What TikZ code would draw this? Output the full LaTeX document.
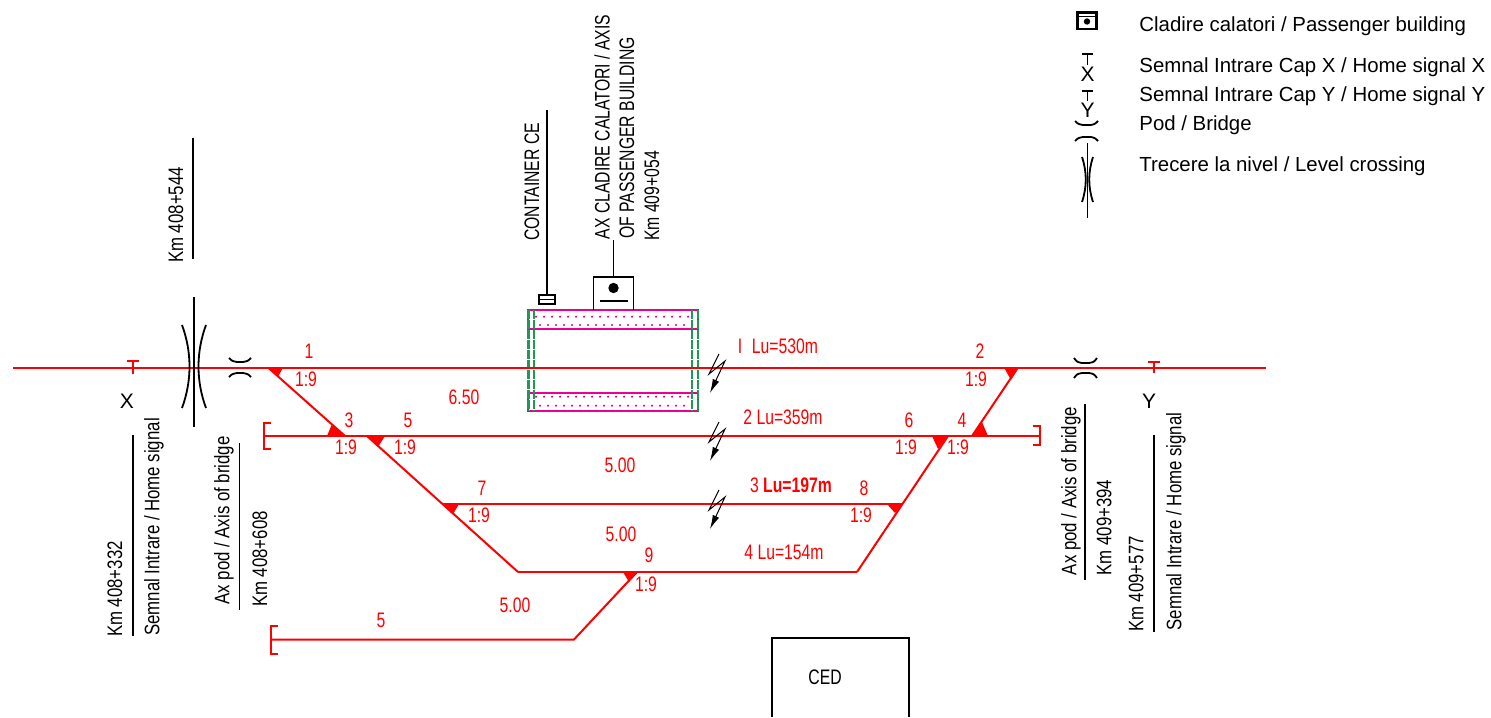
\documentclass[tikz,border=0pt]{standalone}
\usepackage{fontspec}
\setmainfont{Liberation Sans}
\newfontfamily\narrowfont[FakeStretch=0.75]{Liberation Sans}
\newfontfamily\sidefont[FakeStretch=0.8]{Liberation Sans}
\usetikzlibrary{arrows.meta}
\definecolor{trackred}{rgb}{1,0,0}
\definecolor{platgreen}{rgb}{0.13,0.6,0.33}
\tikzset{
  track/.style={draw=trackred, line width=1pt},
  turnout/.style={fill=trackred},
  blackline/.style={draw=black, line width=0.9pt},
  redlabel/.style={text=trackred, inner sep=0pt, font=\narrowfont\fontsize{10.5}{12}\selectfont},
  toplabel/.style={text=black, inner sep=0pt, rotate=90, font=\narrowfont\fontsize{10.5}{12}\selectfont},
  sidelabel/.style={text=black, inner sep=0pt, rotate=90, font=\sidefont\fontsize{10.5}{12}\selectfont},
  legendlabel/.style={text=black, inner sep=0pt, anchor=west, font=\fontsize{10.2}{12}\selectfont},
  signlabel/.style={text=black, inner sep=0pt, font=\fontsize{10.5}{12}\selectfont},
  platform/.style={draw=magenta, line width=1pt},
  platdots/.style={draw=magenta, line width=1.2pt, line cap=round, dash pattern=on 0pt off 4pt},
  platside/.style={draw=platgreen, line width=1.1pt, dash pattern=on 4.6pt off 0.4pt},
  bolt/.style={draw=black, line width=0.5pt, -{Latex[length=7pt,width=3.5pt]}}
}
\begin{document}
\begin{tikzpicture}[x=0.5pt,y=-0.5pt]
    \useasboundingbox (0,0) rectangle (1491,717);

    % Platforms
    \draw[platdots] (536,316.7) -- (692,316.7);
    \draw[platdots, dash phase=2pt] (536,325) -- (692,325);
    \draw[platdots] (536,396.7) -- (692,396.7);
    \draw[platdots, dash phase=2pt] (536,405.7) -- (692,405.7);
    \draw[platform] (528,310) rectangle (698,328.5);
    \draw[platform] (528,392.5) rectangle (698,411);
    \draw[platside] (528.5,310) -- (528.5,411);
    \draw[platside] (534.3,310) -- (534.3,411);
    \draw[platside] (692.3,310) -- (692.3,411);
    \draw[platside] (698,310) -- (698,411);

    % Track points
    \coordinate (mainL) at (13,367.5);
    \coordinate (mainR) at (1266,367.5);
    \coordinate (sw1) at (268,367.5);
    \coordinate (sw2) at (1018,367.5);
    \coordinate (sw3) at (345,436);
    \coordinate (sw5) at (367,436);
    \coordinate (sw6) at (948,436);
    \coordinate (sw4) at (972,436);
    \coordinate (sw7) at (442,504);
    \coordinate (sw8) at (903,504);
    \coordinate (bendL) at (518,572);
    \coordinate (bendR) at (857,572);
    \coordinate (sw9) at (637,572);
    \coordinate (bend5) at (574,639.5);
    \coordinate (end2L) at (264,436);
    \coordinate (end2R) at (1040,436);
    \coordinate (end5) at (271,639.5);

    % Tracks
    \draw[track] (mainL) -- (mainR);
    \draw[track] (end2L) -- (end2R);
    \draw[track] (sw7) -- (sw8);
    \draw[track] (bendL) -- (bendR);
    \draw[track] (end5) -- (bend5) -- (sw9);
    \draw[track] (sw1) -- (sw3);
    \draw[track] (sw5) -- (bendL);
    \draw[track] (bendR) -- (sw6);
    \draw[track] (sw4) -- (sw2);

    % Track ends
    \draw[track] (271,422.5) -- (264,422.5) -- (264,449) -- (271,449);
    \draw[track] (1033,426) -- (1040,426) -- (1040,445) -- (1033,445);
    \draw[track] (278,626) -- (271,626) -- (271,654) -- (278,654);

    % Turnout marks
    \fill[turnout] (sw1) -- (283,367.5) -- (278,377) -- cycle;
    \fill[turnout] (sw3) -- (327,436) -- (332,424) -- cycle;
    \fill[turnout] (sw5) -- (385,436) -- (378,447) -- cycle;
    \fill[turnout] (sw7) -- (459,504) -- (453,514) -- cycle;
    \fill[turnout] (887,504) -- (sw8) -- (895,513) -- cycle;
    \fill[turnout] (932,436) -- (sw6) -- (938,449) -- cycle;
    \fill[turnout] (sw4) -- (988,436) -- (982,422) -- cycle;
    \fill[turnout] (1004,367.5) -- (sw2) -- (1011,380) -- cycle;
    \fill[turnout] (623,572) -- (sw9) -- (629,582) -- cycle;

    % Signals
    \draw[track] (127,361) -- (139,361) (133,361) -- (133,374);
    \draw[track] (1148,362) -- (1160,362) (1154,362) -- (1154,373);
    \node[signlabel] (signX) at (127,401) {X};
    \node[signlabel] (signY) at (1149,401) {Y};

    % Bridges
    \draw[blackline] (229,358) .. controls (232,361) .. (237,362) -- (243,362) .. controls (248,361) .. (251,358);
    \draw[blackline] (229,377) .. controls (232,374) .. (237,373) -- (243,373) .. controls (248,374) .. (251,377);
    \draw[blackline] (1074,358) .. controls (1077,362) .. (1082,363) -- (1089,363) .. controls (1094,362) .. (1097,358);
    \draw[blackline] (1074,378) .. controls (1077,374) .. (1082,373) -- (1089,373) .. controls (1094,374) .. (1097,378);

    % Level crossing
    \coordinate (crossT) at (194,297);
    \coordinate (crossB) at (194,427);
    \draw[blackline] (crossT) -- (crossB);
    \draw[blackline] (182,325) .. controls (192,352) and (192,381) .. (182,408);
    \draw[blackline] (206,325) .. controls (196,352) and (196,381) .. (206,408);

    % Buildings
    \coordinate (ceT) at (547,110);
    \coordinate (ceB) at (547,295);
    \coordinate (pbT) at (613.5,240);
    \coordinate (pbB) at (613.5,277);
    \draw[blackline] (ceT) -- (ceB);
    \draw[blackline] (pbT) -- (pbB);
    \draw[blackline] (539,295) rectangle (555,304);
    \draw[blackline] (539,299.5) -- (555,299.5);
    \draw[blackline] (593.5,310) -- (593.5,277) -- (633.5,277) -- (633.5,310);
    \fill (613.5,288) circle (2.6pt);
    \draw[blackline] (599.5,301) -- (627.5,301);

    % Current direction marks
    \draw[bolt] (719,354) -- (709,374) -- (725,361) -- (710,393);
    \draw[bolt] (719,422) -- (709,442) -- (725,429) -- (710,461);
    \draw[bolt] (719,490) -- (709,510) -- (725,497) -- (710,529);

    % Kilometre rules
    \coordinate (km1T) at (193,138);
    \coordinate (km1B) at (193,259);
    \coordinate (km2T) at (133,435);
    \coordinate (km2B) at (133,636);
    \coordinate (km3T) at (239.5,443);
    \coordinate (km3B) at (239.5,610);
    \coordinate (km4T) at (1085,404);
    \coordinate (km4B) at (1085,580);
    \coordinate (km5T) at (1154,435);
    \coordinate (km5B) at (1154,632);
    \draw[blackline] (km1T) -- (km1B);
    \draw[blackline] (km2T) -- (km2B);
    \draw[blackline] (km3T) -- (km3B);
    \draw[blackline] (km4T) -- (km4B);
    \draw[blackline] (km5T) -- (km5B);

    % Kilometre labels
    \node[sidelabel] (km408a) at (176,215) {Km 408+544};
    \node[sidelabel] (km408b) at (115,589) {Km 408+332};
    \node[sidelabel] (homeX) at (154,527) {Semnal Intrare / Home signal};
    \node[sidelabel] (podL) at (224,520.5) {Ax pod / Axis of bridge};
    \node[sidelabel] (km408c) at (260,559) {Km 408+608};
    \node[sidelabel] (podR) at (1071,491) {Ax pod / Axis of bridge};
    \node[sidelabel] (km409a) at (1104,527.5) {Km 409+394};
    \node[sidelabel] (km409b) at (1136,584) {Km 409+577};
    \node[sidelabel] (homeY) at (1176,521.5) {Semnal Intrare / Home signal};
    \node[toplabel] (contCE) at (532,182) {CONTAINER CE};
    \node[toplabel] (axisA) at (602,127) {AX CLADIRE CALATORI / AXIS};
    \node[toplabel] (axisB) at (627,138) {OF PASSENGER BUILDING};
    \node[toplabel] (km409c) at (652,196) {Km 409+054};

    % Track labels
    \node[redlabel] (t1) at (309,351) {1};
    \node[redlabel] (r1) at (306,379) {1:9};
    \node[redlabel] (t3) at (349,420) {3};
    \node[redlabel] (r3) at (346,447) {1:9};
    \node[redlabel] (t5) at (408,420) {5};
    \node[redlabel] (r5) at (405,447) {1:9};
    \node[redlabel] (d1) at (464,397) {6.50};
    \node[redlabel] (linI) at (740,346) {I};
    \node[redlabel] (lu1) at (785,346) {Lu=530m};
    \node[redlabel] (lu2) at (783,417) {2 Lu=359m};
    \node[redlabel] (t2) at (980,351) {2};
    \node[redlabel] (r2) at (976,379) {1:9};
    \node[redlabel] (t6) at (909,420) {6};
    \node[redlabel] (r6) at (906,447) {1:9};
    \node[redlabel] (t4) at (962,420) {4};
    \node[redlabel] (r4) at (958,447) {1:9};
    \node[redlabel] (d2) at (620,465) {5.00};
    \node[redlabel] (t7) at (482,488) {7};
    \node[redlabel] (r7) at (479,515) {1:9};
    \node[redlabel] (lu3) at (791,485) {3 \textbf{Lu=197m}};
    \node[redlabel] (t8) at (864,488) {8};
    \node[redlabel] (r8) at (861,515) {1:9};
    \node[redlabel] (d3) at (621,534) {5.00};
    \node[redlabel] (t9) at (649,555) {9};
    \node[redlabel] (r9) at (646,584) {1:9};
    \node[redlabel] (lu4) at (784,552) {4 Lu=154m};
    \node[redlabel] (d4) at (515,605) {5.00};
    \node[redlabel] (t5b) at (381,620) {5};

    % CED box
    \draw[blackline] (772,717) -- (772,638) -- (909,638) -- (909,717);
    \node[redlabel, text=black] (ced) at (825,677) {CED};

    % Legend
    \draw[black, line width=1.2pt] (1077.5,12.5) rectangle (1096.5,29);
    \draw[black, line width=0.8pt] (1077,16.5) -- (1097,16.5);
    \fill (1087,21.5) circle (1.6pt);
    \draw[blackline] (1082,54) -- (1093,54) (1087.5,54) -- (1087.5,65);
    \node[signlabel] (legX) at (1087.5,74) {X};
    \draw[blackline] (1082,91) -- (1093,91) (1087.5,91) -- (1087.5,101);
    \node[signlabel] (legY) at (1087.5,110) {Y};
    \draw[blackline] (1075,121) .. controls (1078,124) .. (1083,125) -- (1091,125) .. controls (1095,124) .. (1098,121);
    \draw[blackline] (1075,141) .. controls (1078,138) .. (1083,137) -- (1091,137) .. controls (1095,138) .. (1098,141);
    \coordinate (legT) at (1087.5,143);
    \coordinate (legB) at (1087.5,218);
    \draw[blackline] (legT) -- (legB);
    \draw[blackline] (1082,157) .. controls (1087,172) and (1087,187) .. (1082,202);
    \draw[blackline] (1093,157) .. controls (1088,172) and (1088,187) .. (1093,202);
    \node[legendlabel] (leg1) at (1139,26) {Cladire calatori / Passenger building};
    \node[legendlabel] (leg2) at (1139,67.5) {Semnal Intrare Cap X / Home signal X};
    \node[legendlabel] (leg3) at (1139,96.5) {Semnal Intrare Cap Y / Home signal Y};
    \node[legendlabel] (leg4) at (1139,125.5) {Pod / Bridge};
    \node[legendlabel] (leg5) at (1139,166.5) {Trecere la nivel / Level crossing};
\end{tikzpicture}
\end{document}
